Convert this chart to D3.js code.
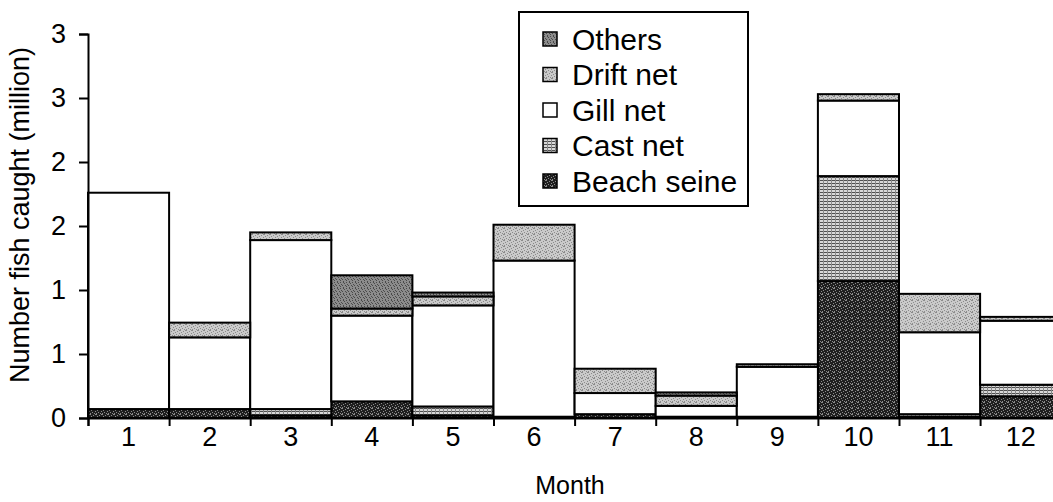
<!DOCTYPE html>
<html>
<head>
<meta charset="utf-8">
<script src="https://cdn.jsdelivr.net/npm/d3@7"></script>
<style>
  html, body { margin: 0; padding: 0; background: #fff; overflow: hidden; }
  svg { display: block; font-family: "Liberation Sans", Arial, sans-serif; }
</style>
</head>
<body>
<svg id="chart" width="1053" height="502"></svg>
<script>
// Monthly catch by gear type (million fish)
const months = ["1", "2", "3", "4", "5", "6", "7", "8", "9", "10", "11", "12"];
const beachSeine = [0.07, 0.07, 0.02, 0.13, 0.02, 0.01, 0.03, 0.01, 0.01, 1.07, 0.01, 0.17];
const castNet    = [0.00, 0.00, 0.05, 0.00, 0.07, 0.00, 0.00, 0.00, 0.00, 0.82, 0.02, 0.09];
const gillNet    = [1.69, 0.56, 1.32, 0.67, 0.79, 1.22, 0.165, 0.085, 0.39, 0.59, 0.64, 0.50];
const driftNet   = [0.00, 0.115, 0.06, 0.055, 0.07, 0.28, 0.19, 0.08, 0.02, 0.05, 0.30, 0.03];
const others     = [0.00, 0.00, 0.00, 0.26, 0.03, 0.00, 0.00, 0.025, 0.00, 0.00, 0.00, 0.00];

const seriesNames = ["Beach seine", "Cast net", "Gill net", "Drift net", "Others"];
const legendOrder = ["Others", "Drift net", "Gill net", "Cast net", "Beach seine"];
const yTickValues = [0, 0.5, 1, 1.5, 2, 2.5, 3];
const yTickLabels = ["0", "1", "1", "2", "2", "3", "3"];

const seriesValues = {
  "Beach seine": beachSeine,
  "Cast net": castNet,
  "Gill net": gillNet,
  "Drift net": driftNet,
  "Others": others
};

const rows = months.map((m, i) => {
  const r = { month: m };
  seriesNames.forEach(s => { r[s] = seriesValues[s][i]; });
  return r;
});

const svg = d3.select("#chart");
const defs = svg.append("defs");

// Stipple tiles for the printed-looking fills
function stipple(id, bg, dot, pts, size) {
  const p = defs.append("pattern").attr("id", id)
    .attr("patternUnits", "userSpaceOnUse").attr("width", size).attr("height", size);
  p.append("rect").attr("width", size).attr("height", size).attr("fill", bg);
  pts.forEach(([x, y]) => p.append("rect").attr("x", x).attr("y", y)
    .attr("width", 1).attr("height", 1).attr("fill", dot));
}
const dotsA = [[0,0],[3,1],[1,2],[5,3],[2,4],[4,5],[0,5],[5,0]];
const dotsB = [[1,0],[4,0],[2,1],[0,3],[3,3],[5,2],[1,5],[4,4]];
stipple("p-beach", "#1e1e1e", "#8a8a8a", dotsA, 6);
stipple("p-others", "#8c8c8c", "#4a4a4a", dotsB, 6);
stipple("p-drift", "#cacaca", "#8a8a8a", dotsA, 6);

// Cast net: fine horizontal hatching over a light grid
(function () {
  const p = defs.append("pattern").attr("id", "p-cast")
    .attr("patternUnits", "userSpaceOnUse").attr("width", 4).attr("height", 3);
  p.append("rect").attr("width", 4).attr("height", 3).attr("fill", "#d8d8d8");
  p.append("rect").attr("x", 0).attr("y", 0).attr("width", 4).attr("height", 1).attr("fill", "#505050");
  p.append("rect").attr("x", 3).attr("y", 0).attr("width", 1).attr("height", 3).attr("fill", "#8a8a8a");
})();

const fills = {
  "Beach seine": "url(#p-beach)",
  "Cast net": "url(#p-cast)",
  "Gill net": "#ffffff",
  "Drift net": "url(#p-drift)",
  "Others": "url(#p-others)"
};

// Plot geometry
const x0 = 88, bandW = 81.1;
const x = d3.scaleBand().domain(months).range([x0, x0 + bandW * months.length]).padding(0);
const xEdge = d3.scaleLinear().domain([0, months.length]).range([x0, x0 + bandW * months.length]);
const y = d3.scaleLinear().domain([0, 3]).range([418, 34]);

const stack = d3.stack().keys(seriesNames);
const layers = stack(rows);

const g = svg.append("g");
g.selectAll("g.layer").data(layers).join("g")
  .attr("class", "layer")
  .attr("fill", d => fills[d.key])
  .selectAll("rect").data(d => d.filter(v => v[1] - v[0] > 0)).join("rect")
  .attr("x", d => x(d.data.month))
  .attr("width", x.bandwidth())
  .attr("y", d => y(d[1]))
  .attr("height", d => y(d[0]) - y(d[1]))
  .attr("stroke", "#000")
  .attr("stroke-width", 2);

const fontFamily = "Liberation Sans, Arial, sans-serif";

// Y axis
const yAxis = svg.append("g").attr("transform", `translate(${x0},0)`)
  .call(d3.axisLeft(y).tickValues(yTickValues)
    .tickFormat((d, i) => yTickLabels[i]).tickSizeOuter(0).tickSize(9).tickPadding(13));
yAxis.select(".domain").attr("stroke", "#000").attr("stroke-width", 2);
yAxis.selectAll(".tick line").attr("stroke", "#000").attr("stroke-width", 2);
yAxis.selectAll(".tick text").attr("font-size", 27).attr("fill", "#000")
  .attr("font-family", fontFamily);

// X axis: ticks on month boundaries, labels centred in each band
const xAxis = svg.append("g").attr("transform", "translate(0,418)")
  .call(d3.axisBottom(xEdge).tickValues(d3.range(0, months.length + 1))
    .tickFormat("").tickSizeOuter(0).tickSize(8));
xAxis.select(".domain").attr("stroke", "#000").attr("stroke-width", 2);
xAxis.selectAll(".tick line").attr("stroke", "#000").attr("stroke-width", 2);

const xLabels = svg.append("g").attr("transform", "translate(0,418)")
  .call(d3.axisBottom(x).tickSize(0).tickPadding(9));
xLabels.select(".domain").remove();
xLabels.selectAll(".tick text").attr("font-size", 27).attr("fill", "#000")
  .attr("font-family", fontFamily);

// Axis titles
svg.append("text")
  .attr("transform", "translate(29,215) rotate(-90)")
  .attr("text-anchor", "middle")
  .attr("font-size", 27)
  .text("Number fish caught (million)");

svg.append("text")
  .attr("x", 570).attr("y", 494)
  .attr("text-anchor", "middle")
  .attr("font-size", 25)
  .text("Month");

// Legend
const lg = svg.append("g");
lg.append("rect")
  .attr("x", 519).attr("y", 12).attr("width", 229).attr("height", 194)
  .attr("fill", "#fff").attr("stroke", "#000").attr("stroke-width", 2);
legendOrder.forEach((name, i) => {
  const cy = 39 + i * 35.5;
  lg.append("rect")
    .attr("x", 543).attr("y", cy - 7).attr("width", 14).attr("height", 14)
    .attr("fill", fills[name]).attr("stroke", "#000").attr("stroke-width", 1.5);
  lg.append("text")
    .attr("x", 572).attr("y", cy).attr("dy", "0.36em")
    .attr("font-size", 30)
    .text(name);
});
</script>
</body>
</html>
